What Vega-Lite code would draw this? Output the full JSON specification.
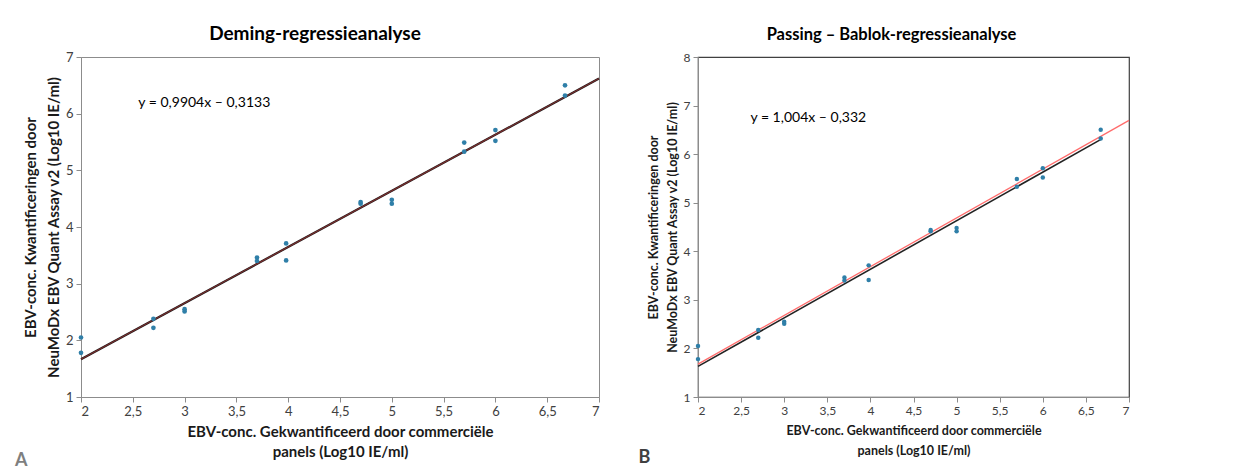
{
  "$schema": "https://vega.github.io/schema/vega-lite/v6.json",
  "padding": {"left": 14, "top": 24, "right": 5, "bottom": 0},
  "background": "white",
  "spacing": 34,
  "datasets": {
    "pts": [
      {"x": 2.0, "y": 2.05}, {"x": 2.0, "y": 1.78},
      {"x": 2.699, "y": 2.38}, {"x": 2.699, "y": 2.22},
      {"x": 3.0, "y": 2.55}, {"x": 3.0, "y": 2.51},
      {"x": 3.699, "y": 3.46}, {"x": 3.699, "y": 3.40},
      {"x": 3.98, "y": 3.71}, {"x": 3.98, "y": 3.41},
      {"x": 4.699, "y": 4.44}, {"x": 4.699, "y": 4.41},
      {"x": 5.0, "y": 4.48}, {"x": 5.0, "y": 4.41},
      {"x": 5.699, "y": 5.49}, {"x": 5.699, "y": 5.33},
      {"x": 6.0, "y": 5.71}, {"x": 6.0, "y": 5.52},
      {"x": 6.672, "y": 6.50}, {"x": 6.672, "y": 6.32}
    ],
    "demingLine": [
      {"x": 2, "y": 1.667}, {"x": 7, "y": 6.619}
    ],
    "pbBlack": [
      {"x": 2, "y": 1.63}, {"x": 6.68, "y": 6.31}
    ],
    "pbRed": [
      {"x": 2, "y": 1.676}, {"x": 7, "y": 6.696}
    ],
    "eqA": [{"x": 3.19, "y": 6.19, "t": "y = 0,9904x – 0,3133"}],
    "eqB": [{"x": 3.28, "y": 6.75, "t": "y = 1,004x – 0,332"}]
  },
  "config": {
    "font": "Lato",
    "view": {"stroke": null},
    "axis": {
      "grid": false,
      "domainColor": "#8c8c8c",
      "tickColor": "#8c8c8c",
      "tickSize": 5,
      "labelColor": "#404040",
      "labelFontSize": 13,
      "labelFont": "Lato",
      "titleFont": "Lato",
      "titleFontWeight": "bold",
      "titleFontSize": 15,
      "titleColor": "#1a1a1a",
      "titleLineHeight": 21,
      "labelPadding": 3
    },
    "title": {"font": "Lato", "color": "#000000"}
  },
  "hconcat": [
    {
      "title": {"text": "A", "orient": "bottom", "anchor": "start", "fontSize": 18, "fontWeight": "bold", "color": "#7f7f7f", "offset": -8, "dx": -8},
      "hconcat": [
        {
          "width": 518,
          "height": 340,
          "view": {"stroke": "#8c8c8c", "strokeWidth": 1},
          "title": {"text": "Deming-regressieanalyse", "fontSize": 19, "fontWeight": "bold", "offset": 7, "dx": -25},
          "layer": [
            {
              "data": {"name": "demingLine"},
              "mark": {"type": "line", "color": "#1a1a1a", "strokeWidth": 2.2},
              "encoding": {
                "x": {"field": "x", "type": "quantitative"},
                "y": {"field": "y", "type": "quantitative"}
              }
            },
            {
              "data": {"name": "demingLine"},
              "mark": {"type": "line", "color": "#7a2e2e", "strokeWidth": 1.2},
              "encoding": {
                "x": {"field": "x", "type": "quantitative"},
                "y": {"field": "y", "type": "quantitative"}
              }
            },
            {
              "data": {"name": "pts"},
              "mark": {"type": "circle", "color": "#2f7fa8", "opacity": 1, "size": 22},
              "encoding": {
                "x": {
                  "field": "x", "type": "quantitative",
                  "scale": {"domain": [2, 7], "nice": false, "zero": false},
                  "axis": {
                    "values": [2, 2.5, 3, 3.5, 4, 4.5, 5, 5.5, 6, 6.5, 7],
                    "labelExpr": "replace(toString(datum.value), '.', ',')",
                    "title": ["EBV-conc. Gekwantificeerd door commerciële", "panels (Log10 IE/ml)"],
                    "titlePadding": 6,
                    "titleLineHeight": 20
                  }
                },
                "y": {
                  "field": "y", "type": "quantitative",
                  "scale": {"domain": [1, 7], "nice": false, "zero": false},
                  "axis": {
                    "values": [1, 2, 3, 4, 5, 6, 7],
                    "format": "d",
                    "title": ["EBV-conc. Kwantificeringen door", "NeuMoDx EBV Quant Assay v2 (Log10 IE/ml)"],
                    "titleLineHeight": 23,
                    "titlePadding": 4
                  }
                }
              }
            },
            {
              "data": {"name": "eqA"},
              "mark": {"type": "text", "fontSize": 14, "color": "#000000", "font": "Lato"},
              "encoding": {
                "x": {"field": "x", "type": "quantitative"},
                "y": {"field": "y", "type": "quantitative"},
                "text": {"field": "t"}
              }
            }
          ]
        }
      ]
    },
    {
      "title": {"text": "B", "orient": "bottom", "anchor": "start", "fontSize": 18, "fontWeight": "bold", "color": "#404040", "offset": -8, "dx": -8},
      "hconcat": [
        {
          "width": 431,
          "height": 340,
          "view": {"stroke": "#404040", "strokeWidth": 1.2},
          "title": {"text": "Passing – Bablok-regressieanalyse", "fontSize": 16.5, "fontWeight": "bold", "offset": 8, "dx": -22},
          "layer": [
            {
              "data": {"name": "pbBlack"},
              "mark": {"type": "line", "color": "#222222", "strokeWidth": 1.6},
              "encoding": {
                "x": {"field": "x", "type": "quantitative"},
                "y": {"field": "y", "type": "quantitative"}
              }
            },
            {
              "data": {"name": "pbRed"},
              "mark": {"type": "line", "color": "#ff6b6b", "strokeWidth": 1.3},
              "encoding": {
                "x": {"field": "x", "type": "quantitative"},
                "y": {"field": "y", "type": "quantitative"}
              }
            },
            {
              "data": {"name": "pts"},
              "mark": {"type": "circle", "color": "#2f7fa8", "opacity": 1, "size": 20},
              "encoding": {
                "x": {
                  "field": "x", "type": "quantitative",
                  "scale": {"domain": [2, 7], "nice": false, "zero": false},
                  "axis": {
                    "values": [2, 2.5, 3, 3.5, 4, 4.5, 5, 5.5, 6, 6.5, 7],
                    "labelExpr": "replace(toString(datum.value), '.', ',')",
                    "labelFontSize": 12,
                    "titleFontSize": 12.5,
                    "title": ["EBV-conc. Gekwantificeerd door commerciële", "panels (Log10 IE/ml)"],
                    "titlePadding": 8,
                    "titleLineHeight": 20
                  }
                },
                "y": {
                  "field": "y", "type": "quantitative",
                  "scale": {"domain": [1, 8], "nice": false, "zero": false},
                  "axis": {
                    "values": [1, 2, 3, 4, 5, 6, 7, 8],
                    "labelFontSize": 12,
                    "titleFontSize": 12.5,
                    "titleLineHeight": 19,
                    "title": ["EBV-conc. Kwantificeringen door", "NeuMoDx EBV Quant Assay v2 (Log10 IE/ml)"],
                    "titlePadding": 4
                  }
                }
              }
            },
            {
              "data": {"name": "eqB"},
              "mark": {"type": "text", "fontSize": 14, "color": "#000000", "font": "Lato"},
              "encoding": {
                "x": {"field": "x", "type": "quantitative"},
                "y": {"field": "y", "type": "quantitative"},
                "text": {"field": "t"}
              }
            }
          ]
        }
      ]
    }
  ]
}
